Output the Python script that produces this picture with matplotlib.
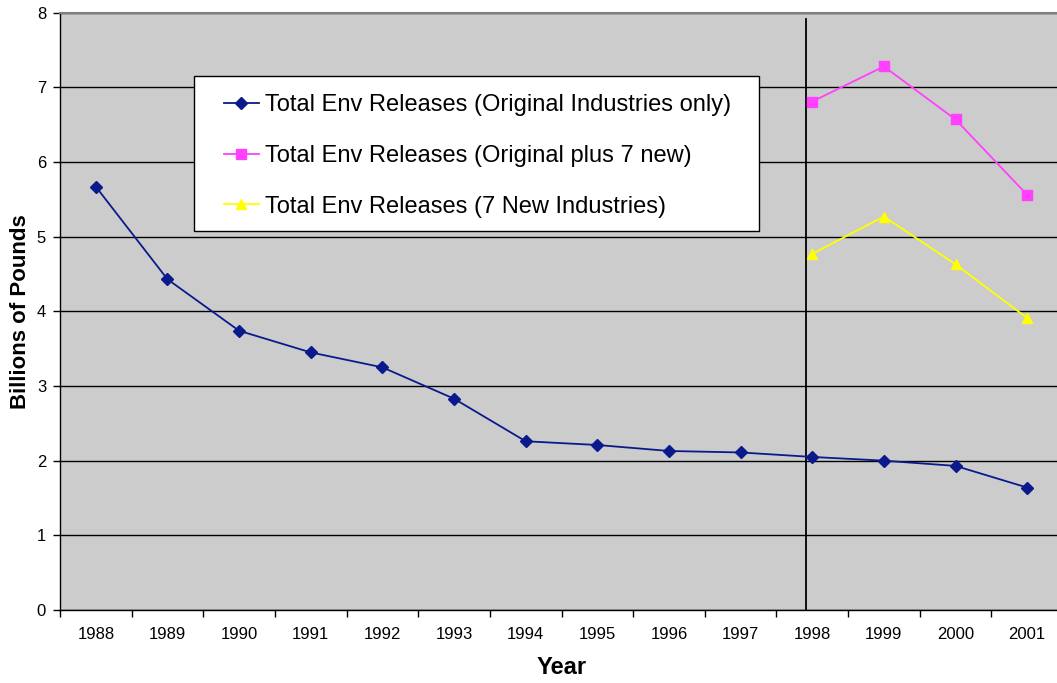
import matplotlib
matplotlib.use("Agg")
import matplotlib.pyplot as plt
from matplotlib.patches import Rectangle
import numpy as np

plt.rcParams['font.family'] = ['Liberation Sans', 'DejaVu Sans']

years = ['1988', '1989', '1990', '1991', '1992', '1993', '1994',
         '1995', '1996', '1997', '1998', '1999', '2000', '2001']

original_only = [5.67, 4.43, 3.74, 3.45, 3.25, 2.83, 2.26,
                 2.21, 2.13, 2.11, 2.05, 2.00, 1.93, 1.64]

new_years = ['1998', '1999', '2000', '2001']
original_plus_new = [6.81, 7.28, 6.57, 5.56]
new_industries = [4.77, 5.27, 4.63, 3.91]

label_orig = 'Total Env Releases (Original Industries only)'
label_plus = 'Total Env Releases (Original plus 7 new)'
label_new = 'Total Env Releases (7 New Industries)'

# Boundary between the old reporting scope and the expanded one
scope_change_x = 9.915
scope_change_top = 7.92

W, H = 1057, 683
fig = plt.figure(figsize=(W / 100, H / 100), dpi=100)
ax = fig.add_axes([60 / W, (H - 610) / H, 1003 / W, (610 - 12.7) / H])
ax.set_facecolor('#cccccc')

x_all = np.arange(len(years))
x_new = np.array([years.index(y) for y in new_years])

ax.plot(x_all, original_only, color='#0a1a8c', lw=1.3, marker='D',
        ms=6.2, mec='#0a1a8c', mfc='#0a1a8c', label=label_orig, zorder=4)
ax.plot(x_new, original_plus_new, color='#ff40ff', lw=1.3, marker='s',
        ms=6.5, mec='#ff40ff', mfc='#ff40ff', label=label_plus, zorder=4)
ax.plot(x_new, new_industries, color='#ffff00', lw=1.3, marker='^',
        ms=7.5, mec='#ffff00', mfc='#ffff00', label=label_new, zorder=4)

ax.plot([scope_change_x, scope_change_x], [0, scope_change_top],
        color='black', lw=1.3, zorder=3)

# Axes limits, grid and ticks
ax.set_xlim(-0.5, len(years) - 0.5)
ax.set_ylim(0, 8)
ax.set_yticks(np.arange(0, 9, 1))
ax.yaxis.grid(True, color='black', lw=1.0)
ax.set_axisbelow(True)

ax.set_xticks(x_all)
ax.set_xticklabels(years)
ax.set_xticks(np.arange(-0.5, len(years), 1), minor=True)
ax.tick_params(axis='x', which='major', length=0, pad=12, labelsize=12)
ax.tick_params(axis='x', which='minor', length=5, width=1, color='black')
ax.tick_params(axis='y', which='major', length=5, width=1, pad=5,
               labelsize=12, color='black')

for side in ('left', 'bottom'):
    ax.spines[side].set_color('black')
    ax.spines[side].set_linewidth(1.0)
for side in ('top', 'right'):
    ax.spines[side].set_color('#808080')
    ax.spines[side].set_linewidth(1.5)

ax.set_xlabel('Year', fontsize=17, fontweight='bold', labelpad=10)
ax.set_ylabel('Billions of Pounds', fontsize=16, fontweight='bold', labelpad=4)

# Legend box drawn as a plain white panel, entries placed inside it
ax.add_patch(Rectangle((194 / W, (H - 231) / H), (759 - 194) / W,
                       (231 - 76) / H, transform=fig.transFigure,
                       facecolor='white', edgecolor='black', lw=1.0,
                       zorder=5, clip_on=False))
leg = ax.legend(loc='upper left',
                bbox_to_anchor=(224 / W, (H - 94) / H),
                bbox_transform=fig.transFigure,
                fontsize=17, frameon=False,
                borderpad=0, labelspacing=1.22, handlelength=1.48,
                handletextpad=0.25, borderaxespad=0)
leg.set_zorder(6)
for h in leg.legend_handles:
    h.set_markersize(6.5)

fig.savefig('out.png', dpi=100, facecolor='white')
